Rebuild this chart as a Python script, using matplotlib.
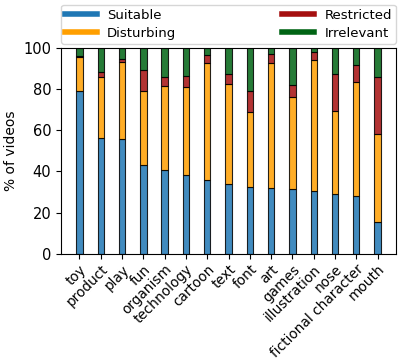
import numpy as np
from matplotlib import pyplot as plt
from matplotlib.lines import Line2D

categories = ['toy', 'product', 'play', 'fun', 'organism', 'technology', 'cartoon',
              'text', 'font', 'art', 'games', 'illustration', 'nose',
              'fictional character', 'mouth']
suitable = [78.9, 56.4, 55.9, 43.3, 40.7, 38.5, 35.6, 34.1, 32.5, 31.9, 31.7, 30.6, 28.9, 28.0, 15.4]
disturbing = [16.5, 29.3, 37.1, 35.6, 40.6, 42.3, 57.1, 48.3, 36.3, 60.8, 44.4, 63.4, 40.4, 55.4, 43.0]
restricted = [0.7, 2.6, 1.5, 10.4, 4.4, 5.5, 3.6, 5.1, 10.5, 4.5, 5.9, 3.9, 18.0, 8.3, 27.5]
irrelevant = [100 - s - d - r for s, d, r in zip(suitable, disturbing, restricted)]

labels = ['Suitable', 'Disturbing', 'Restricted', 'Irrelevant']
colors = ['#1f77b4', '#ff9f00', '#a50f0f', '#006414']

fig = plt.figure(figsize=(4.07, 3.6), dpi=100)
ax = fig.add_axes([0.15, 0.295, 0.823, 0.572])

x = np.arange(len(categories))
bottom = np.zeros(len(categories))
for vals, c in zip([suitable, disturbing, restricted, irrelevant], colors):
    ax.bar(x, vals, 0.3, bottom=bottom, color=c, edgecolor='black',
           linewidth=0.8, alpha=0.85)
    bottom += np.array(vals)

ax.set_ylim(0, 100)
ax.set_yticks(range(0, 101, 20))
ax.tick_params(axis='y', labelsize=10.5)
ax.tick_params(axis='x', labelsize=9.8, pad=2.5)
ax.set_xticks(x)
ax.set_xticklabels(categories, rotation=45, ha='right', rotation_mode='anchor')
ax.set_ylabel('% of videos', fontsize=10)

handles = [Line2D([], [], color=c, lw=4) for c in colors]
ax.legend(handles, labels, ncol=2, bbox_to_anchor=(0, 1.02, 1, 0.2),
          loc='lower left', mode='expand', borderaxespad=0, fontsize=9.5,
          handlelength=2.4, borderpad=0.3, labelspacing=0.4)

plt.savefig('out.png')
